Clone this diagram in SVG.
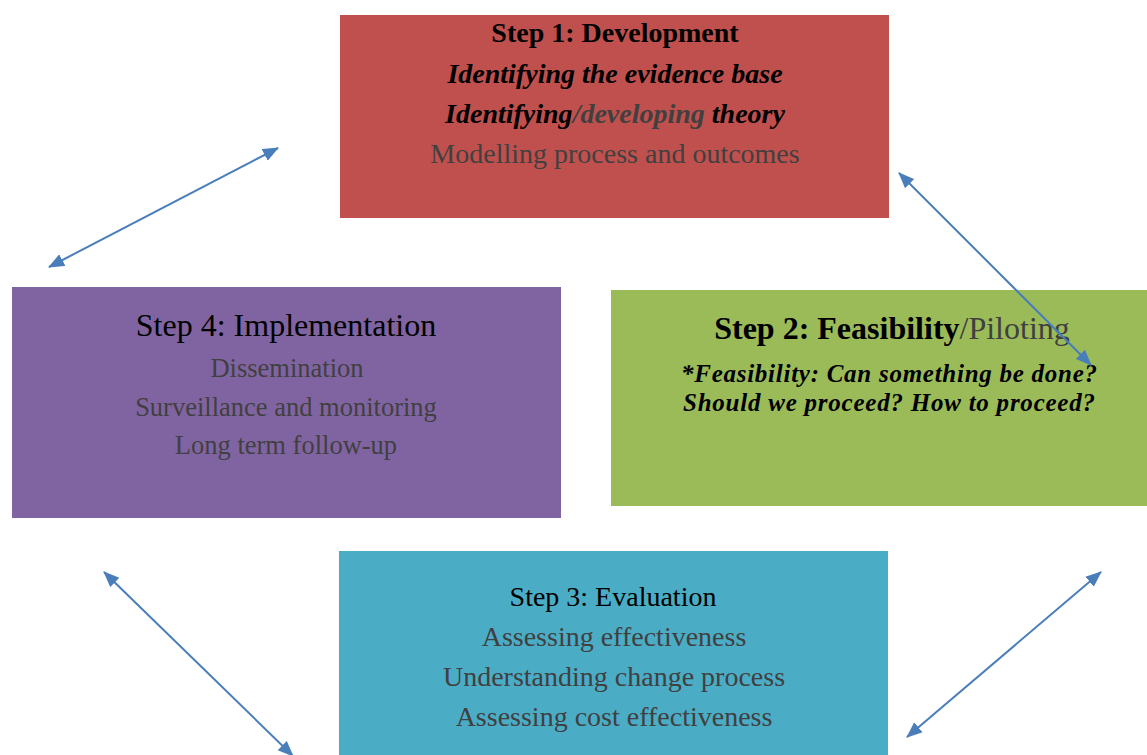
<svg xmlns="http://www.w3.org/2000/svg" width="1147" height="755" viewBox="0 0 1147 755">
<defs>
<style>
text{font-family:"Liberation Serif","Times New Roman",serif;text-anchor:middle}
.k{fill:#000}
.g{fill:#404040}
.b{font-weight:bold}
.i{font-style:italic}
.conn{stroke:#4A7EBB;stroke-width:2;fill:none;marker-start:url(#ah);marker-end:url(#ah)}
</style>
<marker id="ah" markerUnits="userSpaceOnUse" markerWidth="16" markerHeight="14" refX="15" refY="6.5" orient="auto-start-reverse" viewBox="0 0 16 13">
<path d="M0,0 L16,6.5 L0,13 z" fill="#4A7EBB"/>
</marker>
</defs>
<rect width="1147" height="755" fill="#fff"/>
<g id="step1">
<rect x="340" y="15" width="549" height="203" fill="#C0504D"/>
<text x="615" y="42" font-size="28" class="k b">Step 1: Development</text>
<text x="615" y="83" font-size="28" class="k b i">Identifying the evidence base</text>
<text x="615" y="123" font-size="28" class="k b i">Identifying<tspan class="g">/developing</tspan> theory</text>
<text x="615" y="163" font-size="28" class="g">Modelling process and outcomes</text>
</g>
<g id="step2">
<rect x="611" y="290" width="536" height="216" fill="#9BBB59"/>
<text x="892" y="339" font-size="32" class="k"><tspan class="b">Step 2: Feasibility</tspan><tspan class="g">/Piloting</tspan></text>
<text x="889" y="382" font-size="25" class="k b i" textLength="416" lengthAdjust="spacing">*Feasibility: Can something be done?</text>
<text x="889" y="411" font-size="25" class="k b i" textLength="412" lengthAdjust="spacing">Should we proceed? How to proceed?</text>
</g>
<g id="step4">
<rect x="12" y="287" width="549" height="231" fill="#8064A2"/>
<text x="286" y="336" font-size="32" class="k">Step 4: Implementation</text>
<text x="287" y="377" font-size="26.5" class="g">Dissemination</text>
<text x="286" y="416" font-size="26.5" class="g">Surveillance and monitoring</text>
<text x="286" y="454" font-size="26.5" class="g">Long term follow-up</text>
</g>
<g id="step3">
<rect x="339" y="551" width="549" height="204" fill="#4BACC6"/>
<text x="613" y="606" font-size="28" class="k">Step 3: Evaluation</text>
<text x="614" y="646" font-size="28" class="g">Assessing effectiveness</text>
<text x="614" y="686" font-size="28" class="g">Understanding change process</text>
<text x="614" y="726" font-size="28" class="g">Assessing cost effectiveness</text>
</g>
<g id="connectors">
<line class="conn" x1="49" y1="267" x2="278" y2="148"/>
<line class="conn" x1="899" y1="173" x2="1091" y2="365"/>
<line class="conn" x1="104" y1="572" x2="293" y2="756"/>
<line class="conn" x1="1101" y1="572" x2="907" y2="737"/>
</g>
</svg>
